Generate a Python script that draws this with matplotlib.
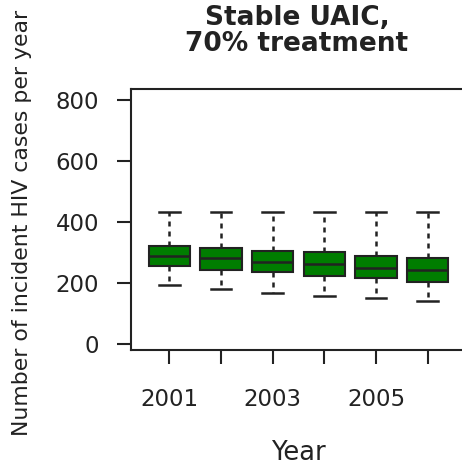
import matplotlib
matplotlib.use("Agg")
import matplotlib.pyplot as plt

years = ["2001", "2002", "2003", "2004", "2005", "2006"]
tick_labels = ["2001", "", "2003", "", "2005", ""]
whislo = [193, 179, 168, 157, 149, 141]
q1 = [255, 242, 235, 222, 215, 203]
med = [287, 281, 269, 262, 249, 243]
q3 = [320, 313, 306, 300, 289, 281]
whishi = [432, 432, 432, 432, 432, 432]

plt.rcParams['font.family'] = ['DejaVu Sans']

fig = plt.figure(figsize=(4.62, 4.66), dpi=100)
ax = fig.add_axes([131/462, (466-350)/466, (466-131)/462, (350-89)/466])

stats = []
for i, y in enumerate(years):
    stats.append(dict(label=y, whislo=whislo[i], q1=q1[i], med=med[i], q3=q3[i], whishi=whishi[i], fliers=[]))

lc = '#222222'
ax.bxp(stats, positions=range(1, 7), widths=0.8, patch_artist=True, showfliers=False,
       boxprops=dict(facecolor='#007d00', edgecolor=lc, linewidth=1.5),
       medianprops=dict(color=lc, linewidth=1.8),
       whiskerprops=dict(color=lc, linewidth=1.8, linestyle=(0, (2, 2))),
       capprops=dict(color=lc, linewidth=1.8), capwidths=0.4)

ax.set_xlim(0.26, 6.74)
ax.set_ylim(-20, 836)
ax.set_xticks(range(1, 7))
ax.set_xticklabels(tick_labels)
ax.set_yticks([0, 200, 400, 600, 800])
for s in ax.spines.values():
    s.set_linewidth(1.5)
    s.set_color(lc)
ax.tick_params(axis='both', direction='out', length=10, width=1.5, color=lc,
               labelsize=16.5, labelcolor='#222222')
ax.tick_params(axis='x', pad=17)
ax.tick_params(axis='y', pad=13)

fig.text(298/462, 1 - 453/466, "Year", ha='center', va='center', fontsize=18.5, color='#222222')
fig.text(22/462, 1 - 223/466, "Number of incident HIV cases per year", ha='center', va='center',
         rotation=90, fontsize=15.8, color='#222222')

fig.text(297/462, 1 - 31/466, "Stable UAIC,\n70% treatment", ha='center', va='center',
         fontsize=19, fontweight='bold', color='#222222', linespacing=1.0)

fig.savefig("out.png", dpi=100)
